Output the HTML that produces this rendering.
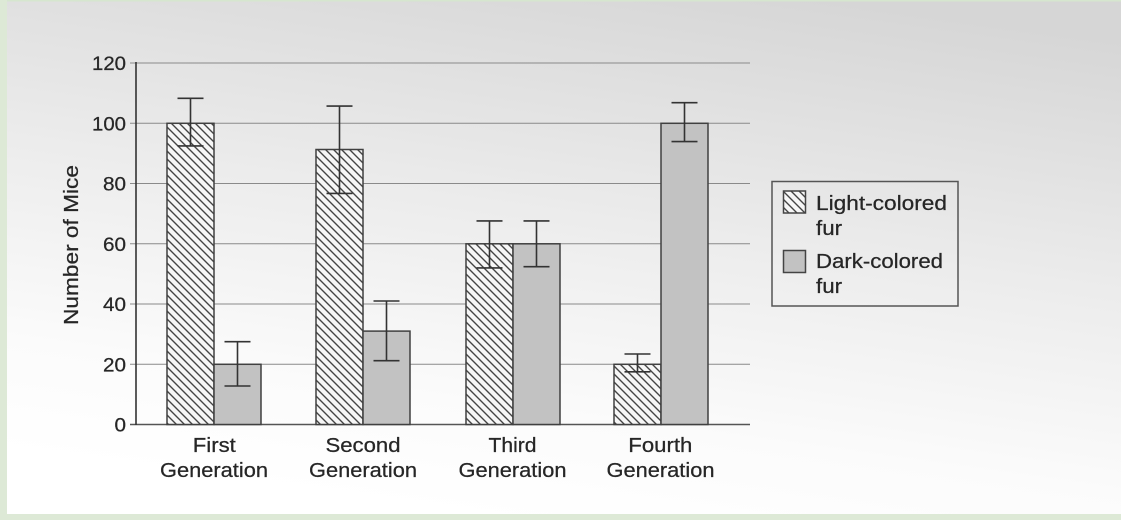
<!DOCTYPE html>
<html>
<head>
<meta charset="utf-8">
<style>
html,body{margin:0;padding:0;width:1121px;height:520px;overflow:hidden;background:#fff;}
svg{display:block;}
text{font-family:"Liberation Sans",Arial,sans-serif;fill:#262626;stroke:#262626;stroke-width:0.25;}
</style>
</head>
<body>
<svg width="1121" height="520" viewBox="0 0 1121 520" xmlns="http://www.w3.org/2000/svg">
<defs>
<linearGradient id="bg" x1="0.75" y1="0" x2="0.45" y2="1">
<stop offset="0" stop-color="#d6d6d6"/>
<stop offset="0.45" stop-color="#ececec"/>
<stop offset="0.8" stop-color="#fbfbfb"/>
<stop offset="1" stop-color="#ffffff"/>
</linearGradient>
<pattern id="hatch" patternUnits="userSpaceOnUse" width="8" height="8">
<rect width="8" height="8" fill="#f6f6f6"/>
<path d="M-2,-2 L10,10 M-2,6 L2,10 M6,-2 L10,2" stroke="#444" stroke-width="1.4"/>
</pattern>
</defs>
<rect x="0" y="0" width="1121" height="520" fill="url(#bg)"/>
<!-- green frame -->
<rect x="0" y="0" width="1121" height="1.5" fill="#d6e6cf"/>
<rect x="0" y="0" width="7" height="520" fill="#dde9d6"/>
<rect x="0" y="514" width="1121" height="6" fill="#dde9d6"/>

<!-- gridlines -->
<g stroke="#8a8a8a" stroke-width="1">
<line x1="130" y1="63" x2="750" y2="63"/>
<line x1="130" y1="123.3" x2="750" y2="123.3"/>
<line x1="130" y1="183.5" x2="750" y2="183.5"/>
<line x1="130" y1="243.8" x2="750" y2="243.8"/>
<line x1="130" y1="304" x2="750" y2="304"/>
<line x1="130" y1="364.3" x2="750" y2="364.3"/>
</g>
<line x1="130" y1="424.5" x2="750" y2="424.5" stroke="#555" stroke-width="1.6"/>
<line x1="136" y1="62" x2="136" y2="425" stroke="#333" stroke-width="1.6"/>

<!-- tick labels -->
<g font-size="19" text-anchor="end">
<text x="126" y="70" textLength="34" lengthAdjust="spacingAndGlyphs">120</text>
<text x="126" y="130.3" textLength="34" lengthAdjust="spacingAndGlyphs">100</text>
<text x="126" y="190.5" textLength="23" lengthAdjust="spacingAndGlyphs">80</text>
<text x="126" y="250.8" textLength="23" lengthAdjust="spacingAndGlyphs">60</text>
<text x="126" y="311" textLength="23" lengthAdjust="spacingAndGlyphs">40</text>
<text x="126" y="371.3" textLength="23" lengthAdjust="spacingAndGlyphs">20</text>
<text x="126" y="431.5" textLength="11.5" lengthAdjust="spacingAndGlyphs">0</text>
</g>

<!-- y label -->
<text transform="translate(78,245) rotate(-90)" font-size="20" text-anchor="middle" textLength="160" lengthAdjust="spacingAndGlyphs">Number of Mice</text>

<!-- bars -->
<g stroke="#404040" stroke-width="1.5">
<rect x="167" y="123.3" width="47" height="301.2" fill="url(#hatch)"/>
<rect x="214" y="364.3" width="47" height="60.2" fill="#c2c2c2"/>
<rect x="316" y="149.5" width="47" height="275" fill="url(#hatch)"/>
<rect x="363" y="331.1" width="47" height="93.4" fill="#c2c2c2"/>
<rect x="466" y="243.8" width="47" height="180.7" fill="url(#hatch)"/>
<rect x="513" y="243.8" width="47" height="180.7" fill="#c2c2c2"/>
<rect x="614" y="364.3" width="47" height="60.2" fill="url(#hatch)"/>
<rect x="661" y="123.3" width="47" height="301.2" fill="#c2c2c2"/>
</g>

<!-- error bars -->
<g stroke="#333" stroke-width="1.6" fill="none">
<path d="M190.5,98.3 V145.9 M177.5,98.3 H203.5 M177.5,145.9 H203.5"/>
<path d="M237.5,341.7 V386 M224.5,341.7 H250.5 M224.5,386 H250.5"/>
<path d="M339.5,106.1 V193.4 M326.5,106.1 H352.5 M326.5,193.4 H352.5"/>
<path d="M386.5,301 V360.7 M373.5,301 H399.5 M373.5,360.7 H399.5"/>
<path d="M489.5,220.9 V267.9 M476.5,220.9 H502.5 M476.5,267.9 H502.5"/>
<path d="M536.5,220.9 V266.7 M523.5,220.9 H549.5 M523.5,266.7 H549.5"/>
<path d="M637.5,354 V371.8 M624.5,354 H650.5 M624.5,371.8 H650.5"/>
<path d="M684.5,102.7 V141.6 M671.5,102.7 H697.5 M671.5,141.6 H697.5"/>
</g>

<!-- x labels -->
<g font-size="20" text-anchor="middle">
<text x="214.3" y="452" textLength="43" lengthAdjust="spacingAndGlyphs">First</text>
<text x="214" y="477" textLength="108" lengthAdjust="spacingAndGlyphs">Generation</text>
<text x="363" y="452" textLength="75" lengthAdjust="spacingAndGlyphs">Second</text>
<text x="363" y="477" textLength="108" lengthAdjust="spacingAndGlyphs">Generation</text>
<text x="512.5" y="452" textLength="48" lengthAdjust="spacingAndGlyphs">Third</text>
<text x="512.5" y="477" textLength="108" lengthAdjust="spacingAndGlyphs">Generation</text>
<text x="660.3" y="452" textLength="64" lengthAdjust="spacingAndGlyphs">Fourth</text>
<text x="660.5" y="477" textLength="108" lengthAdjust="spacingAndGlyphs">Generation</text>
</g>

<!-- legend -->
<rect x="772" y="181.5" width="186" height="124.5" fill="none" stroke="#555" stroke-width="1.5"/>
<rect x="783.5" y="191" width="22" height="22" fill="url(#hatch)" stroke="#444" stroke-width="1.5"/>
<rect x="783.5" y="250.5" width="22" height="22" fill="#c2c2c2" stroke="#444" stroke-width="1.5"/>
<g font-size="20">
<text x="816" y="210" textLength="131" lengthAdjust="spacingAndGlyphs">Light-colored</text>
<text x="816" y="235" textLength="26" lengthAdjust="spacingAndGlyphs">fur</text>
<text x="816" y="268" textLength="127" lengthAdjust="spacingAndGlyphs">Dark-colored</text>
<text x="816" y="293" textLength="26" lengthAdjust="spacingAndGlyphs">fur</text>
</g>
</svg>
</body>
</html>
